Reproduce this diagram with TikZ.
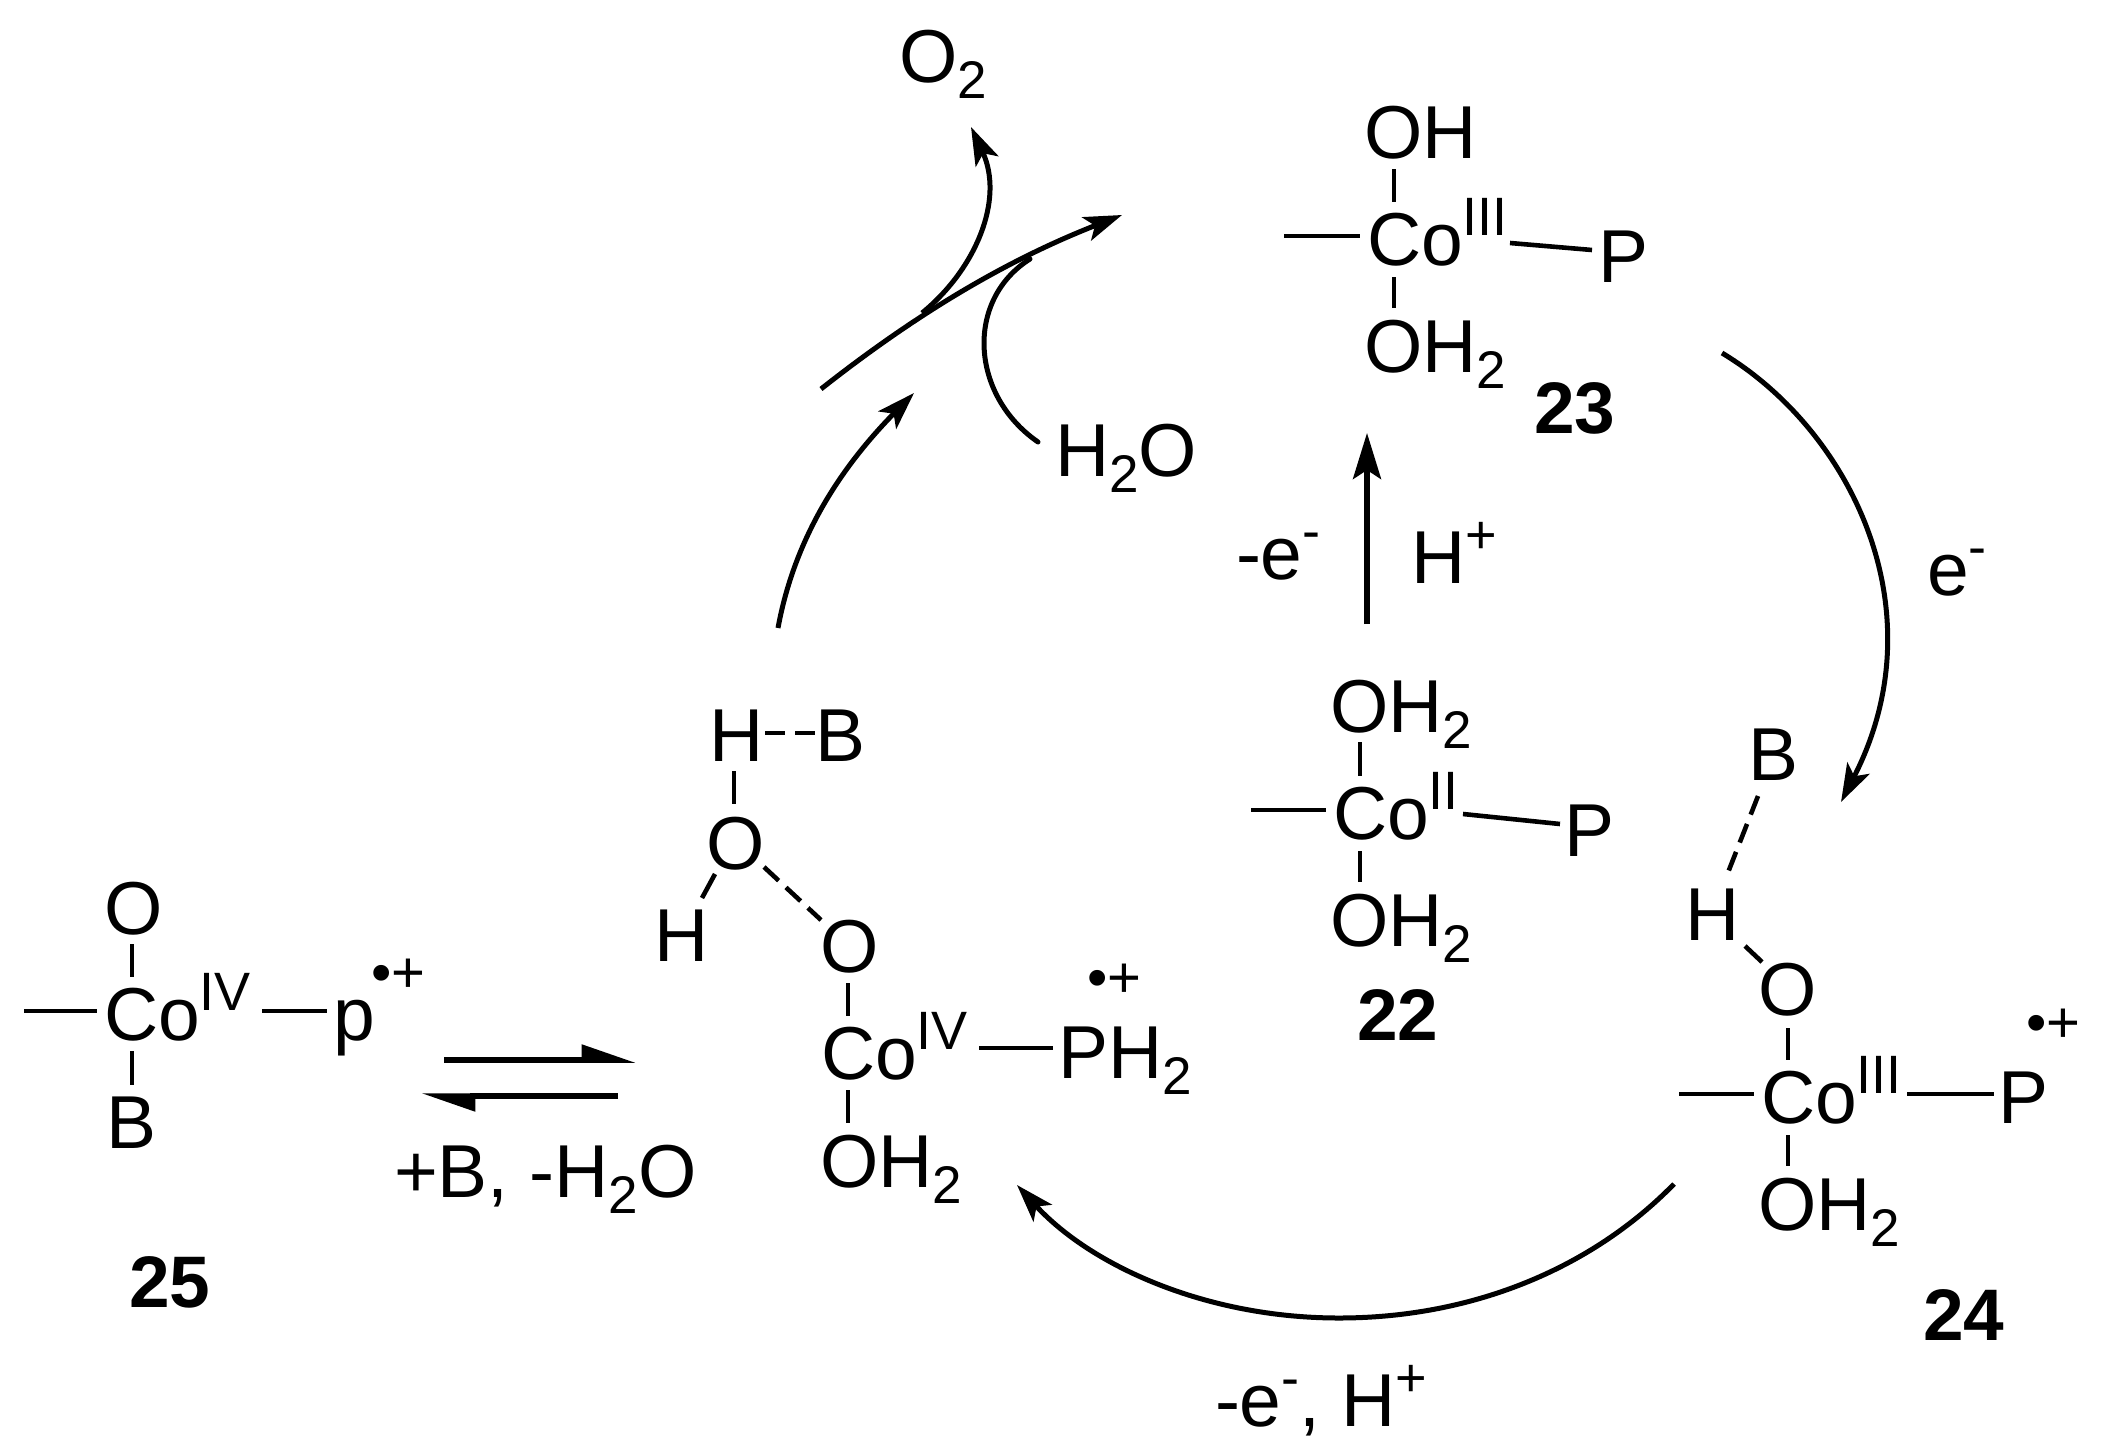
\documentclass[tikz,border=0pt]{standalone}
\usepackage{fontspec}
\setmainfont{Liberation Sans}
\usetikzlibrary{arrows.meta}
\newcommand{\sbs}[1]{\raisebox{-16pt}{\fontsize{53}{53}\selectfont #1}}
\newcommand{\sps}[1]{\raisebox{30pt}{\fontsize{54}{54}\selectfont #1}}
\newcommand{\bondc}[4][bond]{\coordinate (#2a) at (#3);\coordinate (#2b) at (#4);\draw[#1] (#2a) -- (#2b);}
\tikzset{
  txt/.style={anchor=base west,inner sep=0pt,outer sep=0pt,font=\fontsize{75}{80}\selectfont},
  num/.style={anchor=base west,inner sep=0pt,outer sep=0pt,font=\fontsize{73}{80}\selectfont\bfseries},
  rad/.style={anchor=base west,inner sep=0pt,outer sep=0pt,font=\fontsize{58}{60}\selectfont},
  bond/.style={line width=4.6pt},
  dbond/.style={line width=4.6pt,dash pattern=on 20pt off 10pt},
  curve/.style={line width=5pt,-{Stealth[length=38pt,width=25pt,inset=9pt]}},
  straight/.style={line width=5.2pt,-{Stealth[length=46pt,width=28pt,inset=9pt]}},
  plainc/.style={line width=5pt,line cap=round},
  harp/.style={line width=5.5pt,-{Stealth[harpoon,length=46pt,width=30pt,inset=0pt]}}
}
\begin{document}
\begin{tikzpicture}[x=1pt,y=-1pt]
\useasboundingbox (0,0) rectangle (2106,1448);
% O2 and H2O
\node[txt] (o2) at (899,82) {O\sbs{2}};
\node[txt] (h2o) at (1055,476) {H\sbs{2}O};
% 23
\node[txt] (c23top) at (1364,158) {OH};
\node[txt] (c23co) at (1367,265) {Co\sps{III}};
\node[txt] (c23p) at (1598,282) {P};
\node[txt] (c23bot) at (1364,372) {OH\sbs{2}};
\node[num] (n23) at (1534,433) {23};
\bondc{a1}{1394,169}{1394,202}
\bondc{a2}{1394,277}{1394,308}
\bondc{a3}{1284,236}{1360,236}
\bondc{a4}{1510,243}{1592,250}
% 22
\node[txt] (c22top) at (1330,732) {OH\sbs{2}};
\node[txt] (c22co) at (1333,839) {Co\sps{II}};
\node[txt] (c22p) at (1564,856) {P};
\node[txt] (c22bot) at (1330,946) {OH\sbs{2}};
\node[num] (n22) at (1357,1040) {22};
\bondc{b1}{1360,742}{1360,776}
\bondc{b2}{1360,851}{1360,882}
\bondc{b3}{1251,810}{1326,810}
\bondc{b4}{1463,814}{1560,824}
% 24
\node[txt] (c24b) at (1748,780) {B};
\node[txt] (c24h) at (1685,940) {H};
\node[txt] (c24o) at (1758,1015) {O};
\node[txt] (c24co) at (1761,1123) {Co\sps{III}};
\node[txt] (c24p) at (1998,1123) {P};
\node[rad] (c24r) at (2026,1042) {•+};
\node[txt] (c24bot) at (1758,1230) {OH\sbs{2}};
\node[num] (n24) at (1923,1340) {24};
\bondc[dbond]{c1}{1758,796}{1727,875}
\bondc{c2}{1745,946}{1762,962}
\bondc{c3}{1788,1028}{1788,1060}
\bondc{c4}{1788,1135}{1788,1166}
\bondc{c5}{1679,1094}{1754,1094}
\bondc{c6}{1907,1094}{1994,1094}
% intermediate
\node[txt] (ih) at (709,761) {H};
\node[txt] (ib) at (815,761) {B};
\node[txt] (io) at (706,869) {O};
\node[txt] (ih2) at (654,961) {H};
\node[txt] (io2) at (820,972) {O};
\node[txt] (ico) at (821,1079) {Co\sps{IV}};
\node[txt] (iph) at (1058,1078) {PH\sbs{2}};
\node[rad] (ir) at (1087,997) {•+};
\node[txt] (ibot) at (820,1187) {OH\sbs{2}};
\bondc[dbond]{d1}{765,733}{816,733}
\bondc{d2}{734,771}{734,804}
\bondc{d3}{715,874}{702,898}
\bondc[dbond]{d4}{764,867}{821,920}
\bondc{d5}{848,983}{848,1016}
\bondc{d6}{848,1090}{848,1123}
\bondc{d7}{979,1048}{1053,1048}
% 25
\node[txt] (po) at (104,934) {O};
\node[txt] (pco) at (104,1040) {Co\sps{IV}};
\node[txt] (pp) at (333,1040) {p};
\node[rad] (pr) at (371,992) {•+};
\node[txt] (pb) at (106,1148) {B};
\node[num] (n25) at (129,1307) {25};
\bondc{e1}{132,944}{132,977}
\bondc{e2}{132,1051}{132,1085}
\bondc{e3}{24,1011}{97,1011}
\bondc{e4}{262,1011}{327,1011}
% equilibrium
\coordinate (h1) at (444,1060);
\coordinate (h2) at (636,1060);
\coordinate (h3) at (618,1096);
\coordinate (h4) at (421,1096);
\draw[harp] (h1) -- (h2);
\draw[harp] (h3) -- (h4);
\node[txt] (eq) at (394,1197) {+B, -H\sbs{2}O};
% labels
\node[txt] (l1) at (1236,579) {-e\sps{-}};
\node[txt] (l2) at (1411,583) {H\sps{+}};
\node[txt] (l3) at (1927,595) {e\sps{-}};
\node[txt] (l4) at (1215,1426) {-e\sps{-}, H\sps{+}};
% arrows
\coordinate (m1) at (1367,624);
\coordinate (m2) at (1367,433);
\draw[straight] (m1) -- (m2);
\coordinate (r1) at (1722,353);
\coordinate (r2) at (1841,802);
\draw[curve] (r1) .. controls (1850,430) and (1940,610) .. (r2);
\coordinate (s1) at (1674,1184);
\coordinate (s2) at (1339,1318);
\coordinate (s3) at (1017,1185);
\draw[curve] (s1) .. controls (1590,1270) and (1470,1318) .. (s2) .. controls (1205,1318) and (1090,1265) .. (s3);
\coordinate (t1) at (778,628);
\coordinate (t2) at (914,393);
\draw[curve] (t1) .. controls (796,530) and (848,460) .. (t2);
\coordinate (u1) at (821,389);
\coordinate (u2) at (1122,215);
\draw[curve] (u1) .. controls (930,303) and (1020,255) .. (u2);
\coordinate (v1) at (922,313);
\coordinate (v2) at (971,127);
\draw[curve] (v1) .. controls (975,270) and (1005,200) .. (v2);
\coordinate (w1) at (1038,442);
\coordinate (w2) at (1030,259);
\draw[plainc] (w1) .. controls (970,395) and (965,300) .. (w2);
\end{tikzpicture}
\end{document}
